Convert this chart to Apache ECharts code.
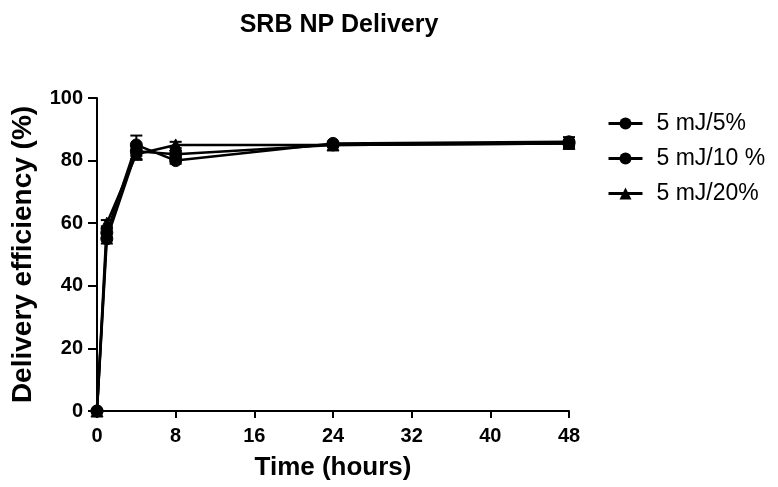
<!DOCTYPE html>
<html><head><meta charset="utf-8">
<script src="https://cdn.jsdelivr.net/npm/echarts@6/dist/echarts.min.js"></script>
<style>html,body{margin:0;padding:0;background:#fff}#c{width:778px;height:487px}</style>
</head><body><div id="c"></div>
<script>
const times = [0, 1, 4, 8, 24, 48];
const xTicks = [0, 8, 16, 24, 32, 40, 48];
const yTicks = [0, 20, 40, 60, 80, 100];
const seriesNames = ['5 mJ/5%', '5 mJ/10 %', '5 mJ/20%'];
const s5 = [0, 57, 85, 80, 85.5, 86];
const s10 = [0, 55, 83, 82, 85, 85.5];
const s20 = [0, 60, 82, 85, 85, 85.5];
const e5 = [0, 1.5, 3, 1, 0.5, 1.5];
const e10 = [0, 1.5, 1.5, 1, 0.5, 1];
const e20 = [0, 1, 1.5, 1, 0.5, 1];

const font = 'Arial, "Liberation Sans", sans-serif';
const chart = echarts.init(document.getElementById('c'));
const vals = [s5, s10, s20];
const errs = [e5, e10, e20];
const symbols = ['circle', 'circle', 'triangle'];

function errSeries(v, e) {
  return {
    type: 'custom',
    data: times.map((t, i) => [t, v[i] - e[i], v[i] + e[i]]),
    renderItem: function (params, api) {
      const lo = api.coord([api.value(0), api.value(1)]);
      const hi = api.coord([api.value(0), api.value(2)]);
      const w = 6;
      const st = { stroke: '#000', lineWidth: 2 };
      return { type: 'group', children: [
        { type: 'line', shape: { x1: lo[0], y1: lo[1], x2: hi[0], y2: hi[1] }, style: st },
        { type: 'line', shape: { x1: hi[0] - w, y1: hi[1], x2: hi[0] + w, y2: hi[1] }, style: st },
        { type: 'line', shape: { x1: lo[0] - w, y1: lo[1], x2: lo[0] + w, y2: lo[1] }, style: st }
      ]};
    },
    z: 1,
    silent: true
  };
}

const series = [];
vals.forEach((v, k) => {
  series.push({
    name: seriesNames[k],
    type: 'line',
    data: times.map((t, i) => [t, v[i]]),
    symbol: symbols[k],
    symbolSize: 12,
    showAllSymbol: true,
    lineStyle: { color: '#000', width: 2.5 },
    itemStyle: { color: '#000', borderColor: '#000' },
    z: 3
  });
  series.push(errSeries(v, errs[k]));
});

chart.setOption({
  animation: false,
  backgroundColor: '#fff',
  title: {
    text: 'SRB NP Delivery', left: 334, top: 8, textAlign: 'center',
    textStyle: { fontFamily: font, fontSize: 25, fontWeight: 'bold', color: '#000' }
  },
  legend: {
    orient: 'vertical', left: 602, top: 107, itemGap: 12, itemWidth: 34, itemHeight: 15,
    data: seriesNames,
    lineStyle: { width: 3 },
    textStyle: { fontFamily: font, fontSize: 23, color: '#000', padding: [0, 0, 0, 9] }
  },
  grid: { left: 97, right: 209, top: 98, bottom: 76, containLabel: false },
  xAxis: {
    type: 'value', min: 0, max: 48, interval: 8,
    name: 'Time (hours)', nameLocation: 'middle', nameGap: 44,
    nameTextStyle: { fontFamily: font, fontSize: 26, fontWeight: 'bold', color: '#000' },
    axisLine: { lineStyle: { color: '#000', width: 2 } },
    axisTick: { show: true, length: 7, lineStyle: { color: '#000', width: 2 } },
    axisLabel: { fontFamily: font, fontSize: 20, fontWeight: 'bold', color: '#000', margin: 15 },
    splitLine: { show: false }
  },
  yAxis: {
    type: 'value', min: 0, max: 100, interval: 20,
    name: 'Delivery efficiency (%)', nameLocation: 'middle', nameGap: 60, nameRotate: 90,
    nameTextStyle: { fontFamily: font, fontSize: 28, fontWeight: 'bold', color: '#000' },
    axisLine: { show: true, lineStyle: { color: '#000', width: 2 } },
    axisTick: { show: true, length: 9, lineStyle: { color: '#000', width: 2 } },
    axisLabel: { fontFamily: font, fontSize: 20, fontWeight: 'bold', color: '#000', margin: 14 },
    splitLine: { show: false }
  },
  series: series
});
</script></body></html>
